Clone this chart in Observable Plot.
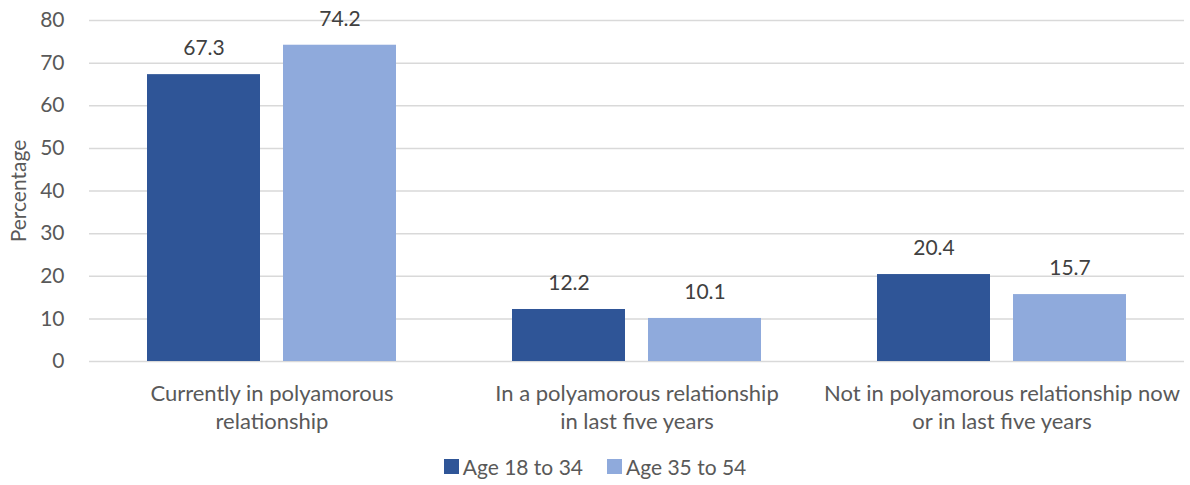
<!DOCTYPE html>
<html>
<head>
<meta charset="utf-8">
<script src="https://cdn.jsdelivr.net/npm/d3@7"></script>
<script src="https://cdn.jsdelivr.net/npm/@observablehq/plot@0.6"></script>
<style>
  body { margin: 0; background: #fff; font-family: Lato, "Open Sans", sans-serif; }
  #chart { width: 1190px; }
  .legend { display: flex; justify-content: center; gap: 24px; font-size: 21px; color: #595959; margin-top: 14px; margin-left: 0px; }
  .legend span { display: inline-flex; align-items: center; }
  .legend i { display: inline-block; width: 15px; height: 15px; margin-right: 4px; }
</style>
</head>
<body>
<div id="chart"></div>
<script>
const categories = [
  "Currently in polyamorous relationship",
  "In a polyamorous relationship in last five years",
  "Not in polyamorous relationship now or in last five years"
];
const categoryLabels = [
  "Currently in polyamorous\nrelationship",
  "In a polyamorous relationship\nin last five years",
  "Not in polyamorous relationship now\nor in last five years"
];
const seriesNames = ["Age 18 to 34", "Age 35 to 54"];
const age18to34 = [67.3, 12.2, 20.4];
const age35to54 = [74.2, 10.1, 15.7];
const seriesColors = ["#2F5597", "#8FAADC"];
const yTicks = [0, 10, 20, 30, 40, 50, 60, 70, 80];

const data = [];
categories.forEach((c, i) => {
  data.push({category: c, series: seriesNames[0], value: age18to34[i]});
  data.push({category: c, series: seriesNames[1], value: age35to54[i]});
});
const labelOf = new Map(categories.map((c, i) => [c, categoryLabels[i]]));

const plot = Plot.plot({
  width: 1190,
  height: 440,
  marginTop: 20,
  marginBottom: 79,
  marginLeft: 88,
  marginRight: 5,
  style: {fontFamily: "Lato, 'Open Sans', sans-serif", fontSize: "21px", color: "#595959", background: "#fff"},
  fx: {domain: categories, padding: 0, label: null, axis: null},
  x: {domain: seriesNames, paddingInner: 0.168, paddingOuter: 0.419, axis: null},
  y: {domain: [0, 80], ticks: yTicks, label: null},
  color: {domain: seriesNames, range: seriesColors},
  marks: [
    Plot.gridY(yTicks, {stroke: "#d9d9d9", strokeOpacity: 1, strokeWidth: 1.5}),
    Plot.axisY(yTicks, {tickSize: 0, tickPadding: 25, fontSize: 21, fill: "#595959", label: null, facetAnchor: "left"}),
    Plot.text(["Percentage"], {frameAnchor: "left", textAnchor: "middle", rotate: -90, dx: -70, fontSize: 21, fill: "#595959", facetAnchor: "left"}),
    Plot.barY(data, {fx: "category", x: "series", y: "value", fill: "series"}),
    Plot.text(data, {fx: "category", x: "series", y: "value", text: d => d.value.toFixed(1), dy: -26, fontSize: 21, fill: "#404040"}),
    Plot.axisFx({anchor: "bottom", tickSize: 0, tickPadding: 20, fontSize: 22, fill: "#595959", lineHeight: 1.27, tickFormat: d => labelOf.get(d), label: null})
  ]
});
document.getElementById("chart").appendChild(plot);

const legend = document.createElement("div");
legend.className = "legend";
seriesNames.forEach((s, i) => {
  const sp = document.createElement("span");
  sp.innerHTML = `<i style="background:${seriesColors[i]}"></i>${s}`;
  legend.appendChild(sp);
});
document.getElementById("chart").appendChild(legend);
</script>
</body>
</html>
